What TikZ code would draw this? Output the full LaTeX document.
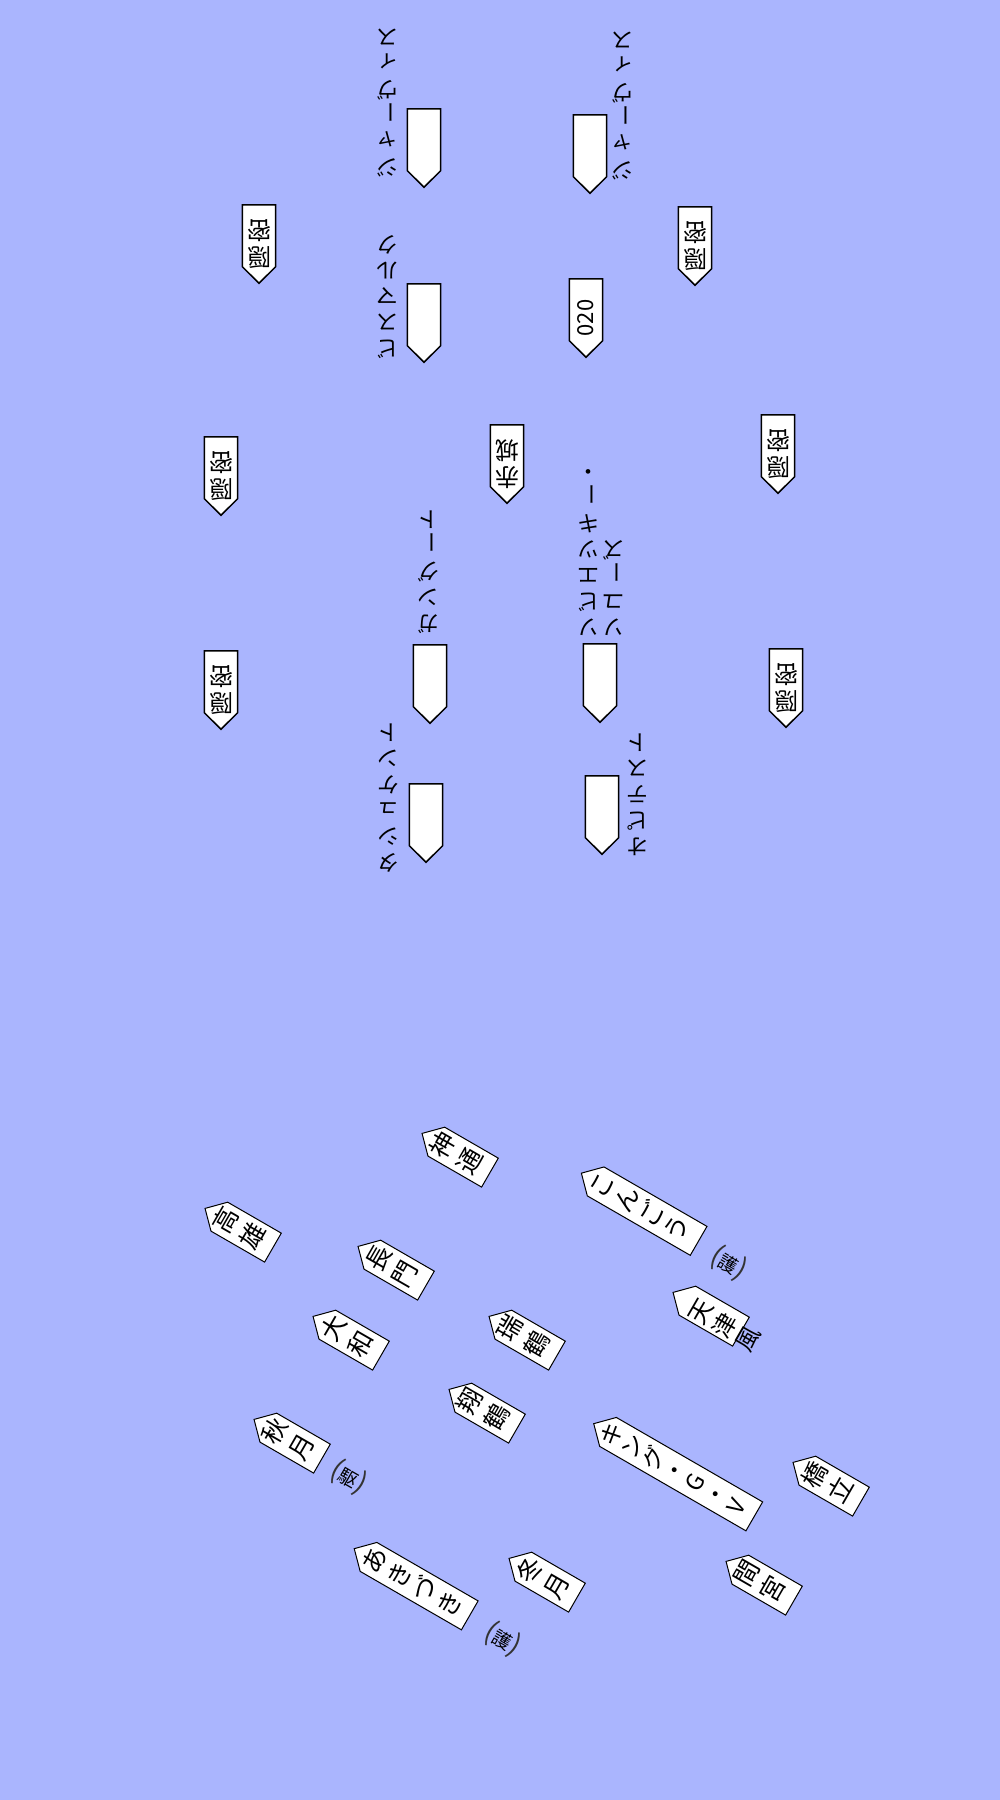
\documentclass[tikz,border=0pt]{standalone}
\usepackage{fontspec}
\newfontfamily\jpfont{Noto Sans CJK JP}
\usetikzlibrary{calc, positioning}
\pgfdeclarelayer{background}
\pgfsetlayers{background,main}
\definecolor{sea}{RGB}{170,181,254}
\newcommand\komafont{\jpfont\fontsize{24}{27}\selectfont}
\newcommand\nafudafont{\jpfont\fontsize{22}{26}\selectfont}
\newcommand\mikatafont{\jpfont\fontsize{25}{31}\selectfont}
\newcommand\nagafont{\jpfont\fontsize{25}{29}\selectfont}
\newcommand\shozokufont{\jpfont\fontsize{19}{19}\selectfont}
\newcommand\nobashi{\rotatebox[origin=c]{90}{ー}} % long vowel mark, written upright
\newcommand\kakko[1]{{\fontsize{28}{28}\selectfont\color{black!80}(}#1{\fontsize{28}{28}\selectfont\color{black!80})}} % bracketed tag
\tikzset{
    koma/.style={rectangle, minimum width=33pt, minimum height=78pt, inner sep=0pt, align=center, font=\komafont}, % one piece
    teki/.style={koma, rotate=180}, % far side: pieces point down
    mikata/.style={koma, rotate=60, font=\mikatafont}, % near side: pieces point up-left
    komaline/.style={fill=white, draw=black, line width=1.5pt, line join=miter}, % outline of a piece
    nafuda/.style={align=center, inner sep=0pt, font=\nafudafont, rotate=180}, % names written beside the pieces
    shozoku/.style={inner sep=0pt, font=\shozokufont, rotate=-30}, % small tags
}
% pentagon of a piece, drawn under its node
\newcommand\komaframe[2][]{%
    \begin{pgfonlayer}{background}
        \filldraw[komaline, #1] (#2.south west) -- ($(#2.north west)!16.5pt!(#2.south west)$)
            -- (#2.north) -- ($(#2.north east)!16.5pt!(#2.south east)$) -- (#2.south east) -- cycle;
    \end{pgfonlayer}}

\begin{document}
\begin{tikzpicture}[x=1pt, y=-1pt]
\useasboundingbox (0,0) rectangle (1000,1800);
\begin{pgfonlayer}{background}
    \fill[sea] (0,0) rectangle (1000,1800);
\end{pgfonlayer}

% far side
\node[teki] (jervisL) at (424,148) {};
\node[teki] (jervisR) at (590,154) {};
\node[teki] (onmitsuA) at (259,244) {隠\\密};
\node[teki] (onmitsuB) at (695,246) {隠\\密};
\node[teki] (bismarck) at (424,323) {};
\node[teki, font=\jpfont\fontsize{22}{26}\selectfont] (no020) at (586,318) {\rotatebox{-90}{020}};
\node[teki] (onmitsuC) at (221,476) {隠\\密};
\node[teki] (akagi) at (507,464) {赤\\城};
\node[teki] (onmitsuD) at (778,454) {隠\\密};
\node[teki] (onmitsuE) at (221,690) {隠\\密};
\node[teki] (onmitsuF) at (786,688) {隠\\密};
\node[teki] (gangut) at (430,684) {};
\node[teki] (soyuz) at (600,683) {};
\node[teki] (tashkent) at (426,823) {};
\node[teki] (test) at (602,815) {};

\node[nafuda] (jervisLname) at (387,103) {ジ\\ャ\\\nobashi\\ヴ\\ィ\\ス};
\node[nafuda] (jervisRname) at (622,106) {ジ\\ャ\\\nobashi\\ヴ\\ィ\\ス};
\node[nafuda] (bismarckname) at (387,297) {ビ\\ス\\マ\\ル\\ク};
\node[nafuda] (gangutname) at (428,572) {ガ\\ン\\グ\\\nobashi\\ト};
\node[nafuda] (soyuzname) at (601,547) {\begin{tabular}[t]{@{}c@{}}ソ\\ユ\\\nobashi\\ズ\end{tabular}\hspace{3pt}\begin{tabular}[t]{@{}c@{}}ソ\\ビ\\エ\\ツ\\キ\\\nobashi\\・\end{tabular}};
\node[nafuda] (tashkentname) at (388,798) {タ\\シ\\ュ\\ケ\\ン\\ト};
\node[nafuda] (testname) at (637,795) {オ\\ピ\\テ\\ス\\ト};

% near side
\node[mikata] (jintsu) at (456,1153) {神\\通};
\node[mikata, minimum height=135pt, font=\nagafont] (kongou) at (640,1207) {こ\\ん\\ご\\う};
\node[mikata] (takao) at (239,1228) {高\\雄};
\node[mikata] (nagato) at (392,1266) {長\\門};
\node[mikata] (amatsukaze) at (707,1312) {};
\node[mikata] (yamato) at (347,1336) {大\\和};
\node[mikata] (zuikaku) at (523,1336) {瑞\\鶴};
\node[mikata] (shokaku) at (483,1409) {翔\\鶴};
\node[mikata] (akizuki) at (288,1439) {秋\\月};
\node[mikata, minimum height=185pt, font=\jpfont\fontsize{23}{24}\selectfont] (kgv) at (674,1470) {キ\\ン\\グ\\・\\G\\・\\V};
\node[mikata] (hashidate) at (827,1482) {橋\\立};
\node[mikata, minimum height=133pt, font=\nagafont] (akizukiJ) at (412,1582) {あ\\き\\づ\\き};
\node[mikata] (fuyutsuki) at (543,1578) {冬\\月};
\node[mikata] (mamiya) at (760,1581) {間\\宮};

\node[shozoku] (kongoutag) at (729,1263) {\kakko{護}};
\node[shozoku] (akizukitag) at (349,1477) {\kakko{駆}};
\node[shozoku] (akizukiJtag) at (503,1639) {\kakko{護}};
\node[align=center, inner sep=0pt, rotate=60, font=\jpfont\fontsize{24}{27}\selectfont] (amatsukazename) at (725,1326) {天\\津\\風};

\foreach \k in {jervisL, jervisR, onmitsuA, onmitsuB, bismarck, no020, onmitsuC, akagi, onmitsuD, onmitsuE, onmitsuF, gangut, soyuz, tashkent, test}
    {\komaframe{\k}}
\foreach \k in {jintsu, kongou, takao, nagato, amatsukaze, yamato, zuikaku, shokaku, akizuki, kgv, hashidate, akizukiJ, fuyutsuki, mamiya}
    {\komaframe[line width=1pt]{\k}}
\end{tikzpicture}
\end{document}
